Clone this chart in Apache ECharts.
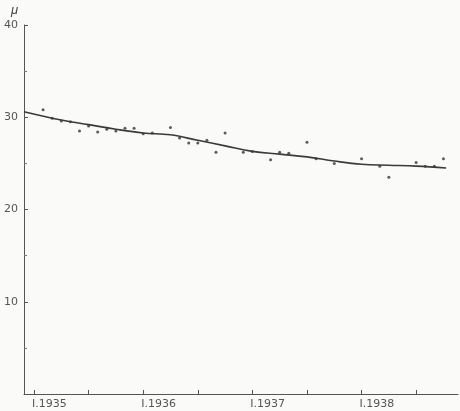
<!DOCTYPE html>
<html>
<head>
<meta charset="utf-8">
<script src="https://cdn.jsdelivr.net/npm/echarts@6/dist/echarts.min.js"></script>
<style>
  html, body { margin: 0; padding: 0; background: #fafaf8; }
  #chart { width: 460px; height: 411px; }
</style>
</head>
<body>
<div id="chart"></div>
<script>
// months counted from January 1935
const obsMonths = [1, 2, 3, 4, 5, 6, 7, 8, 9, 10, 11, 12, 13, 15, 16, 17, 18, 19, 20, 21,
  23, 24, 26, 27, 28, 30, 31, 33, 36, 38, 39, 42, 43, 44, 45];
const obsValues = [30.8, 29.9, 29.6, 29.5, 28.5, 29.05, 28.4, 28.7, 28.5, 28.8, 28.8, 28.2, 28.3, 28.9, 27.75, 27.2, 27.2, 27.5, 26.2, 28.3,
  26.2, 26.3, 25.4, 26.2, 26.1, 27.3, 25.5, 25.0, 25.5, 24.7, 23.5, 25.1, 24.7, 24.7, 25.5];

// smoothed curve
const curveMonths = [-1.1, 3, 6, 9, 12, 15, 18, 21, 24, 27, 30, 33, 36, 39, 42, 45.3];
const curveValues = [30.6, 29.7, 29.2, 28.7, 28.3, 28.1, 27.5, 26.9, 26.3, 26.0, 25.7, 25.25, 24.9, 24.8, 24.7, 24.5];

const tickMonths = [0, 6, 12, 18, 24, 30, 36, 42];
const labelMonths = [0, 12, 24, 36];

const chart = echarts.init(document.getElementById("chart"));
const ink = "#3a3a3a";
const option = {
  backgroundColor: "#fafaf8",
  animation: false,
  grid: { left: 24, right: 2, top: 25, bottom: 17 },
  xAxis: {
    type: "value",
    min: -1.1,
    max: 46.6,
    axisLine: { show: true, onZero: false, lineStyle: { color: "#555", width: 1 } },
    axisTick: {
      show: true, inside: true, length: 4,
      customValues: tickMonths,
      lineStyle: { color: "#555" }
    },
    axisLabel: {
      customValues: labelMonths,
      formatter: v => "I.19" + (35 + Math.round(v / 12)),
      color: "#555",
      fontSize: 11,
      fontFamily: "DejaVu Sans",
      align: "left",
      margin: 5,
      padding: [0, 0, 0, -2]
    },
    splitLine: { show: false }
  },
  yAxis: {
    type: "value",
    min: 0,
    max: 40,
    interval: 10,
    name: "μ",
    nameLocation: "end",
    nameGap: 8,
    nameTextStyle: { color: "#444", fontSize: 13, fontStyle: "italic", align: "right", padding: [0, 6, 0, 0] },
    axisLine: { show: true, onZero: false, lineStyle: { color: "#555", width: 1 } },
    axisTick: { show: true, inside: true, length: 4, lineStyle: { color: "#555" } },
    minorTick: { show: true, splitNumber: 2, length: 3, lineStyle: { color: "#777" } },
    axisLabel: {
      color: "#555",
      fontSize: 11,
      fontFamily: "DejaVu Sans",
      margin: 6,
      formatter: v => v === 0 ? "" : String(v)
    },
    splitLine: { show: false }
  },
  series: [
    {
      type: "line",
      data: curveMonths.map((m, i) => [m, curveValues[i]]),
      smooth: 0.4,
      showSymbol: false,
      lineStyle: { color: ink, width: 1.6 }
    },
    {
      type: "scatter",
      data: obsMonths.map((m, i) => [m, obsValues[i]]),
      symbol: "circle",
      symbolSize: 3,
      itemStyle: { color: "#333" }
    }
  ]
};
chart.setOption(option);
</script>
</body>
</html>
